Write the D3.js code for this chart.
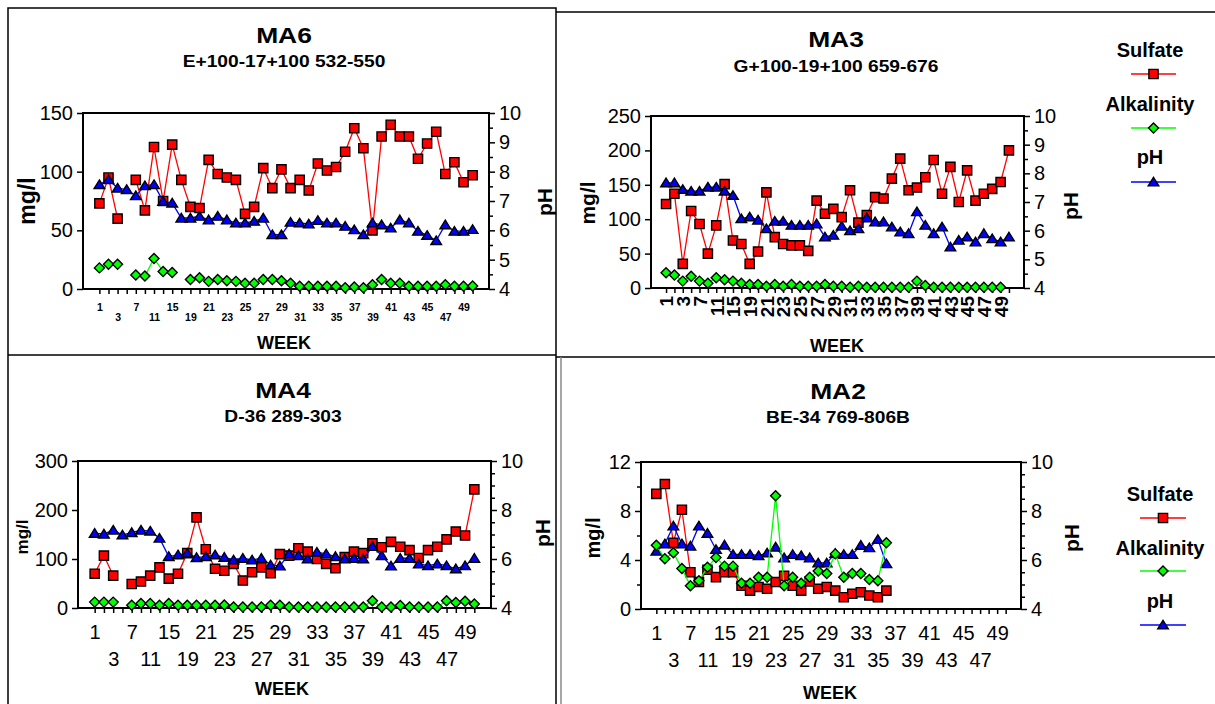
<!DOCTYPE html>
<html>
<head>
<meta charset="utf-8">
<script src="https://cdn.jsdelivr.net/npm/d3@7"></script>
<style>
  body { margin: 0; background: #fff; }
  svg { display: block; font-family: "Liberation Sans", Arial, sans-serif; }
</style>
</head>
<body>
<svg id="chart" width="1215" height="704"></svg>
<script>
// sampling weeks (category axis), only every other one gets a label
const weeks = [1, 2, 3, 5, 7, 9, 11, 13, 15, 17, 19, 20, 21, 22, 23, 24, 25, 26, 27, 28, 29,
  30, 31, 32, 33, 34, 35, 36, 37, 38, 39, 40, 41, 42, 43, 44, 45, 46, 47, 48, 49, 50];
const rowOneWeeks = [1, 7, 15, 21, 25, 29, 33, 37, 41, 45, 49];
const rowTwoWeeks = [3, 11, 19, 23, 27, 31, 35, 39, 43, 47];
const allLabelWeeks = [1, 3, 7, 11, 15, 19, 21, 23, 25, 27, 29, 31, 33, 35, 37, 39, 41, 43, 45, 47, 49];
const legendLabels = ['Sulfate', 'Alkalinity', 'pH'];

// MA6
const ma6Sulfate = [73, 95, 60, null, 93, 67, 121, 75, 123, 93, 70, 69, 110, 98, 95, 93, 64, 70, 103, 86, 102,
  86, 93, 84, 107, 101, 104, 117, 137, 120, 50, 130, 140, 130, 130, 111, 124, 134, 98, 108, 91, 97];
const ma6Alkalinity = [18, 21, 21, null, 12, 11, 26, 15, 14, null, 8, 9.5, 6.5, 8, 7, 6.5, 5, 5, 8, 8, 7,
  5, 2.3, 2.3, 2.3, 2.3, 2.3, 1, 1.7, 1, 3.7, 8, 5, 5, 2.3, 2.3, 2.3, 2.3, 3.7, 2.3, 2.3, 2.5];
const ma6PH = [7.56, 7.73, 7.44, 7.39, 7.18, 7.52, 7.56, 6.99, 6.93, 6.42, 6.42, 6.48, 6.36, 6.48, 6.36, 6.25,
  6.25, 6.31, 6.42, 5.85, 5.85, 6.28, 6.25, 6.22, 6.34, 6.25, 6.25, 6.14, 6.02, 5.85, 6.25, 6.19, 6.08, 6.36,
  6.25, 5.97, 5.83, 5.65, 6.19, 5.97, 5.97, 6.03];

// MA3
const ma3Sulfate = [122, 137, 35, 112, 93, 50, 91, 151, 69, 64, 35, 53, 139, 74, 64, 62, 62, 54, 127, 108,
  115, 103, 142, 95, 106, 132, 130, 159, 188, 142, 146, 161, 186, 137, 176, 125, 171, 127, 137, 144, 154, 200];
const ma3Alkalinity = [22, 19, 10, 17, 10, 7, 15, 12, 10, 7, 5, 5, 2.5, 5, 2.5, 5, 2.5, 2.5, 2.5, 5,
  2.5, 2.5, 1, 2.5, 1, 1, 1, 1, 1, 1, 10, 3.5, 1, 1, 1, 1, 1, 1, 1, 1, 1, null];
const ma3PH = [7.67, 7.67, 7.44, 7.38, 7.38, 7.52, 7.52, 7.38, 7.23, 6.42, 6.48, 6.37, 6.07, 6.33, 6.33, 6.19,
  6.19, 6.19, 6.24, 5.78, 5.84, 6.16, 6.0, 6.07, 6.45, 6.31, 6.31, 6.13, 5.96, 5.90, 6.66, 6.19, 5.90, 6.13,
  5.43, 5.67, 5.78, 5.61, 5.90, 5.72, 5.61, 5.78];

// MA4
const ma4Sulfate = [70, 107, 66, null, 49, 54, 66, 83, 60, 70, 112, 185, 120, 80, 76, 90, 56, 73, 83, 71,
  110, 107, 122, 115, 100, 90, 81, 104, 115, 112, 132, 124, 135, 125, 118, 102, 118, 125, 140, 156, 148, 242];
const ma4Alkalinity = [12, 12, 12, null, 5.5, 9, 9, 5.5, 9, 5.5, 5.5, 5.5, 5.5, 5.5, 6, 2, 2, 2, 2, 5.5,
  5.5, 2, 2, 2, 2, 2, 2, 2, 2, 2, 15, 2, 2, 5, 2, 2, 2, 2, 15, 11, 14, 8];
const ma4PH = [7.05, 7.02, 7.18, 6.98, 7.08, 7.18, 7.14, 6.85, 6.10, 6.17, 6.24, 6.06, 6.10, 6.17, 6.07, 5.96,
  6.03, 5.96, 6.03, 5.76, 5.72, 6.21, 6.14, 6.0, 6.28, 6.21, 6.10, 6.0, 6.03, 6.0, 6.51, 6.14, 5.72, 6.03,
  6.03, 5.80, 5.73, 5.80, 5.73, 5.60, 5.73, 6.03];

// MA2 (sampled only through week 36)
const ma2Sulfate = [9.4, 10.2, 5.4, 8.1, 3.0, 2.2, 3.2, 2.6, 3.0, 3.0, 1.9, 1.5, 1.8, 1.65, 2.2, 2.7, 1.9,
  1.5, 2.25, 1.65, 1.8, 1.5, 0.96, 1.24, 1.37, 1.1, 0.96, 1.5];
const ma2Alkalinity = [5.2, 4.1, 4.6, 3.3, 1.9, 2.3, 3.4, 4.2, 3.5, 3.5, 2.1, 2.1, 2.6, 2.6, 9.25, 1.9, 2.6,
  2.1, 2.6, 3.1, 2.9, 4.5, 2.6, 2.9, 2.9, 2.4, 2.3, 5.4];
const ma2PH = [6.36, 6.66, 7.39, 6.66, 6.57, 7.39, 7.09, 6.43, 6.61, 6.23, 6.23, 6.23, 6.18, 6.29, 6.53, 6.09,
  6.23, 6.18, 6.09, 5.88, 5.88, 6.27, 6.23, 6.23, 6.6, 6.5, 6.84, 5.85];

const svg = d3.select('#chart');

// marker glyphs
const squareSym = { draw(ctx, size) { const r = Math.sqrt(size) / 2; ctx.rect(-r, -r, r * 2, r * 2); } };
const diamondSym = { draw(ctx, size) { const r = Math.sqrt(size) / 2; ctx.moveTo(0, -r); ctx.lineTo(r, 0); ctx.lineTo(0, r); ctx.lineTo(-r, 0); ctx.closePath(); } };
const triangleSym = { draw(ctx, size) { const r = Math.sqrt(size) / 2; ctx.moveTo(0, -r); ctx.lineTo(r * 1.15, r * 0.85); ctx.lineTo(-r * 1.15, r * 0.85); ctx.closePath(); } };

const seriesMeta = [
  { key: 'sulfate', color: '#ff0000', sym: squareSym, size: 85, scale: 'mg' },
  { key: 'ph', color: '#0000ff', sym: triangleSym, size: 85, scale: 'ph' },
  { key: 'alk', color: '#00ff00', sym: diamondSym, size: 100, scale: 'mg' }
];

const panels = [
  {
    title: 'MA6', sub: 'E+100-17+100 532-550', tx: 284, ty: 43, sy: 67,
    x0: 83, x1: 489, y0: 113, y1: 289,
    mgMax: 150, mgTicks: [0, 50, 100, 150], mgMinor: [],
    phTicks: [4, 5, 6, 7, 8, 9, 10],
    xStyle: 'small', mgLab: [27, 201, 23], phLab: [545, 202], week: [284, 349],
    data: { sulfate: ma6Sulfate, alk: ma6Alkalinity, ph: ma6PH }
  },
  {
    title: 'MA3', sub: 'G+100-19+100 659-676', tx: 836, ty: 47, sy: 72,
    x0: 651, x1: 1024, y0: 116, y1: 288,
    mgMax: 250, mgTicks: [0, 50, 100, 150, 200, 250], mgMinor: [],
    phTicks: [4, 5, 6, 7, 8, 9, 10],
    xStyle: 'rotated', mgLab: [588, 203, 21], phLab: [1071, 206], week: [837, 352],
    data: { sulfate: ma3Sulfate, alk: ma3Alkalinity, ph: ma3PH }
  },
  {
    title: 'MA4', sub: 'D-36 289-303', tx: 283, ty: 398, sy: 422,
    x0: 78, x1: 491, y0: 461, y1: 608,
    mgMax: 300, mgTicks: [0, 100, 200, 300], mgMinor: [],
    phTicks: [4, 6, 8, 10],
    xStyle: 'large', mgLab: [22, 537, 17], phLab: [543, 533], week: [282, 695],
    data: { sulfate: ma4Sulfate, alk: ma4Alkalinity, ph: ma4PH }
  },
  {
    title: 'MA2', sub: 'BE-34 769-806B', tx: 838, ty: 399, sy: 423,
    x0: 641, x1: 1021, y0: 462, y1: 609,
    mgMax: 12, mgTicks: [0, 4, 8, 12], mgMinor: [2, 6, 10],
    phTicks: [4, 6, 8, 10],
    xStyle: 'large', mgLab: [593, 538, 20], phLab: [1072, 538], week: [830, 699],
    data: { sulfate: ma2Sulfate, alk: ma2Alkalinity, ph: ma2PH }
  }
];

function styleAxis(sel, size, weight) {
  sel.attr('font-family', null).attr('font-size', null);
  sel.select('.domain').remove();
  sel.selectAll('.tick line').attr('stroke', '#000').attr('stroke-width', 1.5);
  sel.selectAll('.tick text').attr('fill', '#000')
    .style('font-size', size + 'px').style('font-weight', weight);
}

function drawPanel(p) {
  const g = svg.append('g');
  const x = d3.scalePoint().domain(weeks).range([p.x0, p.x1]).padding(1.8);
  const y = d3.scaleLinear().domain([0, p.mgMax]).range([p.y1, p.y0]);
  const yPh = d3.scaleLinear().domain([4, 10]).range([p.y1, p.y0]);

  // left axis (mg/l)
  g.append('g').attr('transform', `translate(${p.x0},0)`)
    .call(d3.axisLeft(y).tickValues(p.mgTicks).tickSize(6).tickPadding(4).tickFormat(d3.format('d')))
    .call(s => styleAxis(s, 20, 'normal'));
  if (p.mgMinor.length) {
    g.append('g').attr('transform', `translate(${p.x0},0)`)
      .call(d3.axisLeft(y).tickValues(p.mgMinor).tickSize(4).tickFormat(''))
      .call(s => styleAxis(s, 20, 'normal'));
  }

  // right axis (pH) with half-unit minor ticks
  g.append('g').attr('transform', `translate(${p.x1},0)`)
    .call(d3.axisRight(yPh).tickValues(p.phTicks).tickSize(6).tickPadding(4).tickFormat(d3.format('d')))
    .call(s => styleAxis(s, 20, 'normal'));
  const phMinor = d3.range(4, 10.01, 0.5).filter(v => !p.phTicks.includes(v));
  g.append('g').attr('transform', `translate(${p.x1},0)`)
    .call(d3.axisRight(yPh).tickValues(phMinor).tickSize(4).tickFormat(''))
    .call(s => styleAxis(s, 20, 'normal'));

  // bottom ticks
  g.append('g').attr('transform', `translate(0,${p.y1})`)
    .call(d3.axisBottom(x).tickSize(5).tickFormat(''))
    .call(s => styleAxis(s, 10, 'normal'));

  if (p.xStyle === 'rotated') {
    g.append('g').attr('transform', `translate(0,${p.y1})`)
      .call(d3.axisBottom(x).tickValues(allLabelWeeks).tickSize(0).tickPadding(0))
      .call(s => styleAxis(s, 19, 'bold'))
      .call(s => s.selectAll('.tick text')
        .attr('transform', 'rotate(-90)')
        .attr('text-anchor', 'end')
        .attr('x', -8).attr('y', 0).attr('dy', '0.36em'));
  } else {
    const small = p.xStyle === 'small';
    const fs = small ? 10.5 : 20;
    const pads = small ? [14.5, 25] : [17, 44];
    const wt = small ? 'bold' : 'normal';
    [rowOneWeeks, rowTwoWeeks].forEach((vals, k) => {
      g.append('g').attr('transform', `translate(0,${p.y1})`)
        .call(d3.axisBottom(x).tickValues(vals).tickSize(0).tickPadding(pads[k]))
        .call(s => styleAxis(s, fs, wt));
    });
  }

  // plot frame
  g.append('rect')
    .attr('x', p.x0).attr('y', p.y0)
    .attr('width', p.x1 - p.x0).attr('height', p.y1 - p.y0)
    .attr('fill', 'none').attr('stroke', '#000').attr('stroke-width', 2);

  // series: sulfate, pH, alkalinity
  seriesMeta.forEach(m => {
    const sc = m.scale === 'mg' ? y : yPh;
    const pts = p.data[m.key].map((v, i) => ({ w: weeks[i], v }));
    const line = d3.line().defined(d => d.v != null).x(d => x(d.w)).y(d => sc(d.v));
    g.append('path').datum(pts).attr('d', line)
      .attr('fill', 'none').attr('stroke', m.color).attr('stroke-width', 1.3);
    g.append('g').selectAll('path')
      .data(pts.filter(d => d.v != null))
      .join('path')
      .attr('transform', d => `translate(${x(d.w)},${sc(d.v)})`)
      .attr('d', d3.symbol(m.sym, m.size))
      .attr('fill', m.color).attr('stroke', '#000').attr('stroke-width', 1.4);
  });

  // titles (the source export is slightly stretched horizontally)
  g.append('text').attr('transform', `translate(${p.tx},${p.ty}) scale(1.2,1)`)
    .attr('text-anchor', 'middle')
    .attr('font-size', 22).attr('font-weight', 'bold').text(p.title);
  g.append('text').attr('transform', `translate(${p.tx},${p.sy}) scale(1.2,1)`)
    .attr('text-anchor', 'middle')
    .attr('font-size', 16).attr('font-weight', 'bold').text(p.sub);

  // axis titles
  g.append('text').attr('transform', `translate(${p.mgLab[0]},${p.mgLab[1]}) rotate(-90)`)
    .attr('text-anchor', 'middle').attr('dy', '0.35em')
    .attr('font-size', p.mgLab[2]).attr('font-weight', 'bold').text('mg/l');
  g.append('text').attr('transform', `translate(${p.phLab[0]},${p.phLab[1]}) rotate(-90)`)
    .attr('text-anchor', 'middle').attr('dy', '0.35em')
    .attr('font-size', 21).attr('font-weight', 'bold').text('pH');
  g.append('text').attr('x', p.week[0]).attr('y', p.week[1]).attr('text-anchor', 'middle')
    .attr('font-size', 18).attr('font-weight', 'bold').text('WEEK');
}

function drawLegend(cx, textY, lineY, lx0, lx1) {
  const g = svg.append('g');
  ['sulfate', 'alk', 'ph'].forEach((key, i) => {
    const meta = seriesMeta.find(s => s.key === key);
    g.append('text').attr('x', cx).attr('y', textY[i]).attr('text-anchor', 'middle')
      .attr('font-size', 20).attr('font-weight', 'bold').text(legendLabels[i]);
    g.append('line').attr('x1', lx0).attr('x2', lx1).attr('y1', lineY[i]).attr('y2', lineY[i])
      .attr('stroke', meta.color).attr('stroke-width', 1.5);
    g.append('path').attr('transform', `translate(${(lx0 + lx1) / 2},${lineY[i]})`)
      .attr('d', d3.symbol(meta.sym, meta.size)())
      .attr('fill', meta.color).attr('stroke', '#000').attr('stroke-width', 1.4);
  });
}

// panel borders
const borders = svg.append('g').attr('stroke', '#000').attr('stroke-width', 1.5).attr('fill', 'none');
borders.append('path').attr('d', 'M8,704V8H556V704');
borders.append('path').attr('d', 'M556,12H1215');
borders.append('path').attr('d', 'M8,355H556');
borders.append('path').attr('d', 'M556,357H1215');
borders.append('path').attr('d', 'M561,357V704').attr('stroke', '#888');

panels.forEach(drawPanel);
drawLegend(1150, [57, 111, 164], [74, 128, 182], 1131, 1176);
drawLegend(1160, [501, 555, 608], [518, 571, 625], 1140, 1186);
</script>
</body>
</html>
